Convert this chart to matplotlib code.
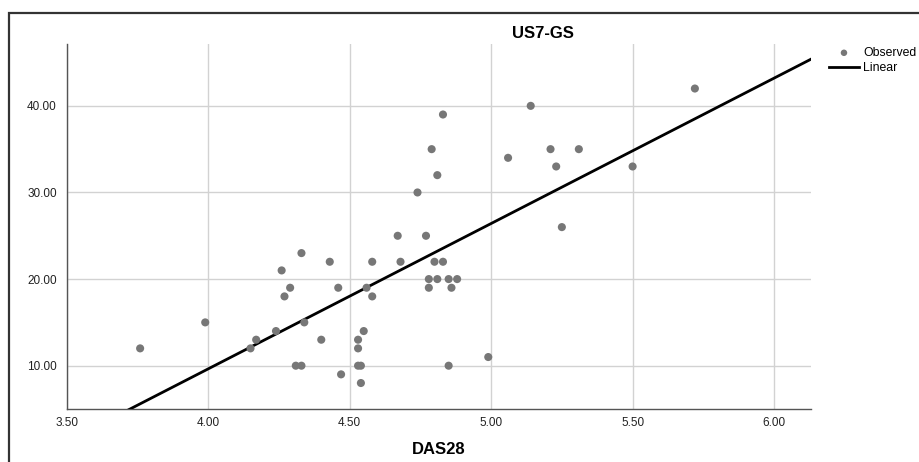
import matplotlib
matplotlib.use("Agg")
import matplotlib.pyplot as plt
from matplotlib.patches import Rectangle
import numpy as np

plt.rcParams['font.family'] = ['Liberation Sans', 'DejaVu Sans']

# DAS28 vs US7-GS
das28 = [3.76, 3.99, 4.15, 4.17, 4.24, 4.26, 4.27, 4.29, 4.31, 4.33,
         4.33, 4.34, 4.40, 4.43, 4.46, 4.47, 4.53, 4.53, 4.53, 4.54,
         4.54, 4.55, 4.56, 4.58, 4.58, 4.67, 4.68, 4.74, 4.77, 4.78,
         4.78, 4.79, 4.80, 4.81, 4.81, 4.83, 4.83, 4.85, 4.85, 4.86,
         4.88, 4.99, 5.06, 5.14, 5.21, 5.23, 5.25, 5.31, 5.50, 5.72]
us7gs = [12, 15, 12, 13, 14, 21, 18, 19, 10, 10,
         23, 15, 13, 22, 19, 9, 13, 12, 10, 10,
         8, 14, 19, 22, 18, 25, 22, 30, 25, 20,
         19, 35, 22, 20, 32, 22, 39, 20, 10, 19,
         20, 11, 34, 40, 35, 33, 26, 35, 33, 42]

x_ticks = [3.5, 4.0, 4.5, 5.0, 5.5, 6.0]
y_ticks = [10, 20, 30, 40]

fig = plt.figure(figsize=(9.19, 4.62), dpi=100)
ax = fig.add_axes([0.0724, 0.1147, 0.81, 0.7893])

# outer frame, cut off at right and bottom like the original export
fig.patches.append(Rectangle((9 / 919, -0.2), 1.2, 1.2 - 13 / 462,
                             transform=fig.transFigure, fill=False,
                             edgecolor='#333333', linewidth=1.6))

xmin, xmax = 3.5, 6.13
ymin, ymax = 5.0, 47.1
ax.set_xlim(xmin, xmax)
ax.set_ylim(ymin, ymax)

# linear fit line
slope, intercept = np.polyfit(das28, us7gs, 1)
xs = np.array([xmin, xmax])
ax.plot(xs, intercept + slope * xs, color='black', linewidth=2, label='Linear', zorder=3)

ax.scatter(das28, us7gs, s=34, color='#777777', edgecolors='none', label='Observed', zorder=4)

ax.set_xticks(x_ticks)
ax.set_yticks(y_ticks)
ax.set_xticklabels([f"{v:.2f}" for v in x_ticks])
ax.set_yticklabels([f"{v:.2f}" for v in y_ticks])
ax.tick_params(length=0, labelsize=8.5, labelcolor='#222222')
ax.tick_params(axis='x', pad=6)
ax.tick_params(axis='y', pad=7)
ax.grid(True, color='#d2d2d2', linewidth=1)
ax.set_axisbelow(True)
for s in ['top', 'right']:
    ax.spines[s].set_visible(False)
for s in ['left', 'bottom']:
    ax.spines[s].set_color('#555555')
    ax.spines[s].set_linewidth(1)

ax.set_xlabel('DAS28', fontsize=12, fontweight='bold', labelpad=9)
fig.text(543 / 919, 1 - 33 / 462, 'US7-GS', fontsize=12, fontweight='bold',
         ha='center', va='center')

# legend outside the plot on the right
handles, labels = ax.get_legend_handles_labels()
leg = fig.legend(handles[::-1], labels[::-1], loc='upper left',
                 bbox_to_anchor=(829 / 919, 1 - 47 / 462), frameon=False,
                 fontsize=8.8, handlelength=2.45, handletextpad=0.35,
                 labelspacing=0.25, borderaxespad=0, borderpad=0,
                 markerscale=0.8)

fig.savefig('out.png', dpi=100)
